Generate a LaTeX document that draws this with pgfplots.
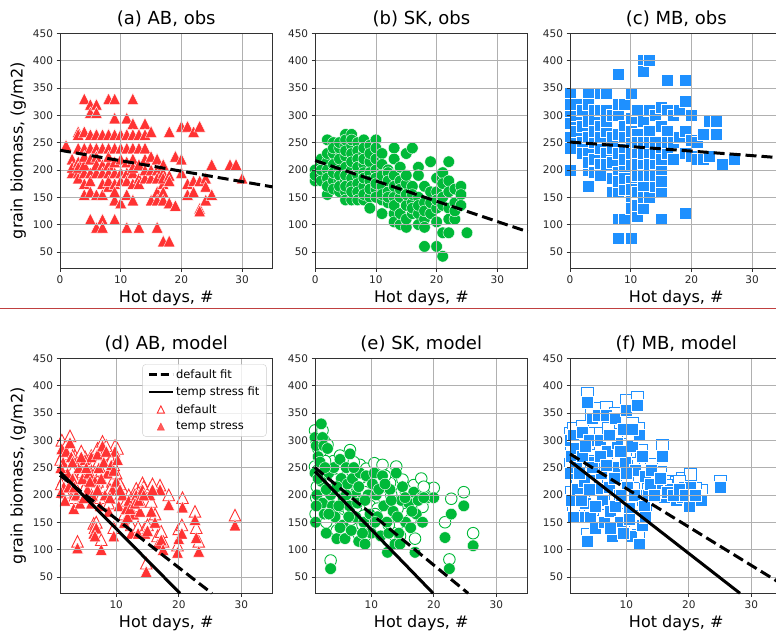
\documentclass[border=0pt]{standalone}
\usepackage{fontspec}
\setmainfont{DejaVu Sans}
\usepackage{pgfplots}
\pgfplotsset{compat=1.18}
\definecolor{myred}{RGB}{255,51,51}
\definecolor{mygreen}{RGB}{0,185,56}
\definecolor{myblue}{RGB}{30,144,255}
\definecolor{sepred}{RGB}{192,64,64}
\definecolor{gridgray}{RGB}{176,176,176}
\definecolor{axgray}{RGB}{50,50,50}
\pgfdeclareplotmark{mtri}{%
  \pgfpathmoveto{\pgfqpoint{0pt}{\pgfplotmarksize}}%
  \pgfpathlineto{\pgfqpoint{-\pgfplotmarksize}{-\pgfplotmarksize}}%
  \pgfpathlineto{\pgfqpoint{\pgfplotmarksize}{-\pgfplotmarksize}}%
  \pgfpathclose\pgfusepathqfillstroke}
\pgfplotsset{
  panel/.style={
    set layers=axis on top,
    scale only axis, width=212.5pt, height=235pt,
    xmin=0, xmax=35, ymin=20, ymax=450,
    xtick={0,10,20,30}, ytick={50,100,...,450},
    grid=major, grid style={gridgray, line width=0.8pt},
    axis line style={axgray, line width=0.9pt},
    tick style={axgray, line width=0.8pt},
    tick align=outside, tick pos=left, major tick length=3.5pt,
    ticklabel style={font=\fontsize{10.5}{12}\selectfont, text=black!85},
    /pgf/number format/assume math mode=true,
    xlabel={Hot days, \#},
    label style={font=\fontsize{16}{19}\selectfont},
    title style={font=\fontsize{18}{21}\selectfont, yshift=-3pt},
  },
  modelpanel/.style={panel, xmin=1, xtick={10,20,30}},
  fitdash/.style={black, mark=none, line width=3pt, dash pattern=on 11pt off 5pt, on layer=axis foreground},
  fitsolid/.style={black, mark=none, line width=3pt, on layer=axis foreground},
  tri/.style={only marks, mark=mtri, mark size=5.8pt, mark options={fill=myred, draw=white, line width=0.4pt}},
  otri/.style={only marks, mark=mtri, mark size=5.8pt, mark options={fill=white, draw=myred, line width=0.9pt}},
  circ/.style={only marks, mark=*, mark size=5.8pt, mark options={fill=mygreen, draw=white, line width=0.4pt}},
  ocirc/.style={only marks, mark=*, mark size=5.8pt, mark options={fill=white, draw=mygreen, line width=0.9pt}},
  sq/.style={only marks, mark=square*, mark size=6pt, mark options={fill=myblue, draw=white, line width=0.4pt}},
  osq/.style={only marks, mark=square*, mark size=6pt, mark options={fill=white, draw=myblue, line width=0.9pt}},
}
\begin{document}
\begin{tikzpicture}
% ---------------- (a)
\begin{axis}[panel, at={(60pt,363.7pt)}, anchor=south west, title={(a) AB, obs}, ylabel={grain biomass, (g/m2)}]
\addplot[tri] coordinates {
(1,245) (2,220) (2,195) (2,205)
(3,270) (3,265) (3,240) (3,215) (3,195) (3,185) (3,205)
(4,330) (4,270) (4,240) (4,195) (4,175) (4,155) (4,210) (4,225)
(5,320) (5,305) (5,265) (5,240) (5,220) (5,195) (5,160) (5,110) (5,180)
(6,320) (6,305) (6,265) (6,240) (6,195) (6,155) (6,95) (6,225) (6,210)
(7,265) (7,210) (7,195) (7,175) (7,155) (7,110) (7,95) (7,240)
(8,330) (8,265) (8,210) (8,195) (8,170) (8,240) (8,225) (8,180)
(9,330) (9,295) (9,265) (9,240) (9,195) (9,175) (9,145) (9,110) (9,215) (9,160)
(10,265) (10,240) (10,220) (10,140) (10,195) (10,180)
(11,295) (11,265) (11,240) (11,195) (11,155) (11,95) (11,215) (11,180)
(12,330) (12,285) (12,265) (12,240) (12,220) (12,195) (12,175) (12,145) (12,205)
(13,265) (13,210) (13,185) (13,175) (13,95) (13,240)
(14,285) (14,265) (14,220) (14,185) (14,240) (14,200)
(15,270) (15,225) (15,185) (15,145) (15,200)
(16,220) (16,160) (16,145) (16,95) (16,200) (16,185)
(17,210) (17,195) (17,175) (17,160) (17,145) (17,70) (17,185)
(18,270) (18,190) (18,140) (18,70) (18,180)
(19,225) (19,135)
(20,280) (20,220) (20,195)
(21,280) (21,175) (21,155)
(22,270) (22,180) (22,160)
(23,280) (23,180) (23,130) (23,125)
(24,185) (24,170) (24,145)
(25,210) (25,155)
(28,210) (29,210) (30,185)
};
\addplot[fitdash] coordinates {(0,236) (35,169)};
\end{axis}
% ---------------- (b)
\begin{axis}[panel, at={(315.2pt,363.7pt)}, anchor=south west, title={(b) SK, obs}]
\addplot[circ] coordinates {
(0,180) (0,200) (0,190) (1,210) (1,190) (1,200) (1,180) (1,220)
(2,255) (2,215) (2,200) (2,185) (2,155) (2,230) (2,170)
(3,250) (3,230) (3,210) (3,180) (3,165) (3,195) (3,240)
(4,240) (4,220) (4,200) (4,180) (4,160) (4,250) (4,190) (4,170)
(5,265) (5,245) (5,225) (5,205) (5,180) (5,160) (5,145) (5,255) (5,235) (5,190) (5,170)
(6,265) (6,245) (6,230) (6,200) (6,185) (6,170) (6,145) (6,255) (6,215) (6,160)
(7,250) (7,235) (7,220) (7,190) (7,175) (7,160) (7,205) (7,145)
(8,255) (8,230) (8,210) (8,195) (8,170) (8,145) (8,240) (8,220) (8,185) (8,155)
(9,245) (9,215) (9,195) (9,180) (9,150) (9,130) (9,230) (9,165)
(10,255) (10,220) (10,200) (10,165) (10,150) (10,240) (10,185) (10,175)
(11,230) (11,210) (11,170) (11,145) (11,120) (11,190) (11,155)
(12,200) (12,195) (12,160) (12,140) (12,180) (12,150)
(13,240) (13,220) (13,190) (13,150) (13,120) (13,105) (13,170) (13,135)
(14,205) (14,180) (14,150) (14,100) (14,165) (14,120)
(15,230) (15,175) (15,135) (15,95) (15,190) (15,155) (15,110)
(16,240) (16,170) (16,140) (16,120) (16,130) (16,155)
(17,205) (17,190) (17,150) (17,120) (17,100) (17,135)
(18,170) (18,140) (18,110) (18,95) (18,60) (18,125)
(19,215) (19,160) (19,120) (19,140)
(20,185) (20,160) (20,130) (20,105) (20,60) (20,145)
(21,195) (21,135) (21,85) (21,42) (21,175) (21,150)
(22,215) (22,180) (22,130) (22,110) (22,85) (22,160)
(23,165) (23,140) (23,110) (23,125)
(24,170) (24,155) (24,135) (25,85)
};
\addplot[fitdash] coordinates {(0,217) (35,87)};
\end{axis}
% ---------------- (c)
\begin{axis}[panel, at={(570pt,363.7pt)}, anchor=south west, title={(c) MB, obs}]
\addplot[sq] coordinates {
(0,340) (0,305) (0,285) (0,260) (0,240) (0,200) (0,320)
(1,300) (1,270) (1,320) (1,240)
(2,310) (2,280) (2,250) (2,230)
(3,340) (3,320) (3,290) (3,260) (3,230) (3,200) (3,170) (3,215)
(4,310) (4,250) (4,220) (4,195) (4,290) (4,270)
(5,340) (5,310) (5,280) (5,240) (5,210) (5,260) (5,190)
(6,340) (6,310) (6,270) (6,230) (6,290) (6,210)
(7,260) (7,215) (7,185) (7,160) (7,300) (7,240)
(8,375) (8,300) (8,265) (8,230) (8,195) (8,160) (8,110) (8,75) (8,320) (8,180)
(9,320) (9,280) (9,240) (9,200) (9,165) (9,110) (9,260) (9,220) (9,185)
(10,340) (10,295) (10,250) (10,210) (10,180) (10,150) (10,130) (10,75) (10,270) (10,230) (10,165)
(11,310) (11,265) (11,230) (11,190) (11,160) (11,115) (11,250) (11,210) (11,135)
(12,400) (12,380) (12,290) (12,250) (12,210) (12,170) (12,130) (12,230) (12,190) (12,150)
(13,400) (13,310) (13,270) (13,230) (13,190) (13,150) (13,250) (13,210)
(14,300) (14,250) (14,210) (14,170) (14,230) (14,190)
(15,315) (15,280) (15,240) (15,200) (15,160) (15,110) (15,220) (15,180)
(16,365) (16,310) (16,270) (16,230) (16,250)
(17,300) (17,250) (17,220)
(18,310) (18,260)
(19,365) (19,325) (19,270) (19,230) (19,120)
(20,300) (20,255) (20,225)
(21,250) (21,220) (22,265) (22,220)
(23,290) (23,225) (24,290) (24,265)
(25,210) (27,220)
};
\addplot[fitdash] coordinates {(0,251) (35,222)};
\end{axis}
% ---------------- (d)
\begin{axis}[modelpanel, at={(60pt,38.7pt)}, anchor=south west, title={(d) AB, model}, ylabel={grain biomass, (g/m2)},
  legend image code/.code={\draw[mark repeat=2, mark phase=2, #1] plot coordinates {(0pt,0pt) (12pt,0pt) (24pt,0pt)};},
  legend style={at={(1,1)}, anchor=north east, xshift=-6pt, yshift=-6pt, draw=gray!40, rounded corners=3pt,
    fill=white, fill opacity=0.8, text opacity=1, font=\fontsize{11.5}{13}\selectfont, cells={anchor=west},
    row sep=3.2pt, inner xsep=5pt, inner ysep=3pt}]
\addlegendimage{black, line width=2.5pt, dash pattern=on 8pt off 4pt}
\addlegendentry{default fit}
\addlegendimage{black, line width=2.5pt}
\addlegendentry{temp stress fit}
\addlegendimage{only marks, mark=mtri, mark size=3.6pt, mark options={fill=white, draw=myred, line width=0.9pt}}
\addlegendentry{default}
\addlegendimage{only marks, mark=mtri, mark size=3.6pt, mark options={fill=myred, draw=myred}}
\addlegendentry{temp stress}
\addplot[otri, forget plot] coordinates {
(1.3,300) (1.5,275) (1.6,230) (2.0,292) (2.2,255) (2.6,308) (2.8,285) (3.0,245) (3.2,195) (3.4,272)
(3.6,212) (3.8,115) (4.0,262) (4.2,200) (4.6,242) (5.0,270) (5.4,225) (5.6,248) (6.0,272) (6.2,215)
(6.4,148) (6.6,240) (6.8,150) (7.0,285) (7.2,262) (7.4,195) (7.6,118) (7.8,298) (8.0,275) (8.2,215)
(8.6,255) (8.8,185) (9.2,265) (9.4,225) (9.6,140) (9.8,290) (10.0,240) (10.4,195) (11.0,212) (11.3,165)
(11.6,190) (12.0,200) (12.4,145) (12.8,180) (13.2,212) (13.5,142) (13.8,188) (14.2,222) (14.6,140) (14.8,75)
(15.4,212) (15.6,188) (16.6,125) (17.0,218) (17.2,133) (18.4,200) (19.8,108) (20.0,138) (20.5,145) (20.6,195)
(22.6,170) (22.8,140) (23.2,115) (29.0,163)
(1.1,265) (1.2,220) (1.8,205) (2.4,228) (3.0,272) (3.3,230) (4.4,280) (4.8,210) (5.2,262) (5.8,238)
(6.0,200) (6.6,140) (7.0,225) (7.6,245) (8.4,290) (9.0,210) (9.6,255) (10.2,285) (10.6,220) (11.8,175)
(12.2,190) (13.0,200) (13.6,205) (14.4,215) (15.0,145) (15.8,220) (16.2,165) (17.5,115)
};
\addplot[tri, forget plot] coordinates {
(1.3,285) (1.5,260) (1.6,215) (2.0,280) (2.2,240) (2.6,296) (2.8,270) (3.0,230) (3.2,175) (3.4,260)
(3.6,200) (3.8,103) (4.0,250) (4.2,185) (4.6,230) (5.0,265) (5.4,210) (5.6,240) (6.0,270) (6.2,200)
(6.4,130) (6.6,225) (6.8,140) (7.0,275) (7.2,250) (7.4,180) (7.6,100) (7.8,290) (8.0,260) (8.2,200)
(8.6,240) (8.8,170) (9.2,255) (9.4,210) (9.6,125) (9.8,280) (10.0,225) (10.4,180) (11.0,200) (11.3,150)
(11.6,175) (12.0,190) (12.4,130) (12.8,165) (13.2,200) (13.5,130) (13.8,170) (14.2,210) (14.6,130) (14.8,60)
(15.4,200) (15.6,170) (16.6,110) (17.0,210) (17.2,118) (18.4,182) (19.8,95) (20.0,120) (20.5,130) (20.6,178)
(22.6,155) (22.8,122) (23.2,97) (29.0,145)
(1.1,250) (1.2,205) (1.8,190) (2.4,215) (3.0,260) (3.3,215) (4.4,270) (4.8,195) (5.2,250) (5.8,225)
(6.0,185) (6.6,125) (7.0,210) (7.6,230) (8.4,280) (9.0,195) (9.6,245) (10.2,265) (10.6,210) (11.8,160)
(12.2,175) (13.0,185) (13.6,190) (14.4,200) (15.0,135) (15.8,210) (16.2,150) (17.5,100)
};
\addplot[fitdash, forget plot] coordinates {(1,236) (25.3,20)};
\addplot[fitsolid, forget plot] coordinates {(1,242) (20.2,20)};
\end{axis}
% ---------------- (e)
\begin{axis}[modelpanel, at={(315pt,38.7pt)}, anchor=south west, title={(e) SK, model}]
\addplot[ocirc] coordinates {
(1.0,318) (1.2,300) (1.5,285) (1.0,252) (1.3,215) (1.1,165) (2.0,320) (2.2,318) (2.4,300) (1.8,272)
(2.0,240) (2.2,198) (2.5,178) (2.8,150) (3.0,292) (3.2,252) (3.5,215) (3.5,80) (3.8,195) (4.0,262)
(4.2,175) (4.5,135) (5.0,272) (5.2,245) (5.5,210) (5.5,160) (5.8,135) (6.0,262) (6.2,235) (6.5,210)
(6.6,282) (6.8,155) (7.0,242) (7.5,218) (7.5,175) (8.0,128) (8.2,255) (8.5,205) (8.8,162) (9.0,125)
(9.2,248) (9.5,215) (9.8,180) (10.0,148) (10.5,258) (10.8,215) (11.0,175) (11.5,140) (11.8,255) (12.0,195)
(12.5,165) (12.6,118) (13.0,222) (13.5,185) (13.8,125) (14.0,252) (14.4,148) (14.8,205) (15.0,228) (15.5,165)
(16.0,198) (16.3,155) (16.8,218) (17.0,120) (17.2,180) (18.0,230) (18.2,178) (19.0,212) (20.0,213) (21.8,150)
(22.5,82) (22.8,193) (24.8,205) (26.3,130)
(1.5,245) (1.2,195) (2.6,262) (2.8,225) (3.2,180) (4.5,228) (4.8,195) (5.0,155) (6.0,213) (6.4,172)
(7.2,260) (7.8,200) (8.0,228) (8.6,145) (9.0,205) (10.2,235) (10.6,165) (11.2,222) (12.2,235) (12.8,145)
(13.2,200) (14.2,175) (14.6,125) (15.4,210) (16.5,185) (17.5,200) (18.4,215)
};
\addplot[circ] coordinates {
(1.0,305) (1.2,290) (1.5,270) (1.0,240) (1.3,200) (1.1,150) (2.0,330) (2.2,305) (2.4,290) (1.8,260)
(2.0,225) (2.2,185) (2.5,165) (2.8,130) (3.0,285) (3.2,240) (3.5,200) (3.5,65) (3.8,180) (4.0,250)
(4.2,160) (4.5,120) (5.0,265) (5.2,230) (5.5,195) (5.5,145) (5.8,120) (6.0,250) (6.2,220) (6.5,180)
(6.6,275) (6.8,135) (7.0,230) (7.5,200) (7.5,160) (8.0,115) (8.2,240) (8.5,190) (8.8,150) (9.0,110)
(9.2,235) (9.5,200) (9.8,165) (10.0,130) (10.5,240) (10.8,200) (11.0,160) (11.5,125) (11.8,235) (12.0,180)
(12.5,150) (12.6,95) (13.0,210) (13.5,170) (13.8,110) (14.0,240) (14.4,130) (14.8,190) (15.0,215) (15.5,150)
(16.0,185) (16.3,140) (16.8,205) (17.0,95) (17.2,165) (18.0,195) (18.2,150) (19.0,195) (20.0,195) (21.8,122)
(22.5,65) (22.8,165) (24.8,180) (26.3,107)
(1.5,230) (1.2,180) (2.6,250) (2.8,210) (3.2,165) (4.5,215) (4.8,180) (5.0,140) (6.0,200) (6.4,160)
(7.2,250) (7.8,185) (8.0,215) (8.6,130) (9.0,190) (10.2,220) (10.6,150) (11.2,210) (12.2,220) (12.8,130)
(13.2,190) (14.2,160) (14.6,110) (15.4,195) (16.5,170) (17.5,190) (18.4,195)
};
\addplot[fitdash] coordinates {(1,250) (25.5,20)};
\addplot[fitsolid] coordinates {(1,243) (19.9,20)};
\end{axis}
% ---------------- (f)
\begin{axis}[modelpanel, at={(570pt,38.7pt)}, anchor=south west, title={(f) MB, model}]
\addplot[osq] coordinates {
(1.0,312) (1.2,285) (1.0,255) (1.2,205) (1.5,322) (2.0,300) (2.0,262) (2.2,225) (2.5,175) (3.0,325)
(3.0,282) (3.2,240) (3.5,198) (3.8,385) (3.8,128) (4.0,312) (4.2,172) (4.5,350) (4.8,272) (5.0,152)
(5.3,225) (5.5,358) (5.8,312) (6.0,255) (6.2,203) (6.5,162) (6.8,360) (7.0,292) (7.2,228) (7.5,182)
(7.8,140) (8.2,350) (8.5,310) (8.5,262) (8.8,215) (9.0,165) (9.5,335) (9.8,272) (10.0,372) (10.2,228)
(10.5,188) (10.8,138) (11.0,300) (11.5,258) (11.8,378) (12.0,322) (12.2,212) (12.5,160) (12.0,125) (13.0,250)
(13.5,210) (14.0,255) (15.0,228) (15.8,290) (16.0,215) (17.0,225) (18.0,222) (19.0,230) (20.0,205) (20.2,238)
(22.0,208) (25.0,225)
(1.5,172) (2.8,202) (2.5,250) (3.5,300) (4.0,222) (4.5,262) (5.0,192) (5.8,282) (6.8,268) (7.2,322)
(7.5,152) (8.0,242) (8.2,192) (9.0,292) (9.2,212) (9.5,142) (10.0,252) (10.5,168) (11.0,330) (11.2,212)
(12.5,282) (12.8,192) (13.0,172) (13.8,232) (14.5,212) (15.5,242) (16.5,218) (17.5,210) (18.5,225) (19.5,212)
(21.0,212)
};
\addplot[sq] coordinates {
(1.0,300) (1.2,270) (1.0,240) (1.2,190) (1.5,310) (2.0,285) (2.0,250) (2.2,210) (2.5,160) (3.0,315)
(3.0,270) (3.2,225) (3.5,185) (3.8,370) (3.8,115) (4.0,300) (4.2,160) (4.5,340) (4.8,260) (5.0,140)
(5.3,210) (5.5,345) (5.8,300) (6.0,240) (6.2,190) (6.5,150) (6.8,345) (7.0,280) (7.2,215) (7.5,170)
(7.8,125) (8.2,340) (8.5,295) (8.5,250) (8.8,200) (9.0,150) (9.5,320) (9.8,260) (10.0,355) (10.2,215)
(10.5,175) (10.8,125) (11.0,290) (11.5,245) (11.8,365) (12.0,310) (12.2,200) (12.5,145) (12.0,110) (13.0,235)
(13.5,200) (14.0,245) (15.0,215) (15.8,270) (16.0,195) (17.0,210) (18.0,190) (19.0,195) (20.0,180) (20.2,215)
(22.0,190) (25.0,215)
(1.5,160) (2.8,190) (2.5,240) (3.5,290) (4.0,210) (4.5,250) (5.0,180) (5.8,270) (6.8,255) (7.2,310)
(7.5,140) (8.0,230) (8.2,180) (9.0,280) (9.2,200) (9.5,130) (10.0,240) (10.5,155) (11.0,320) (11.2,200)
(12.5,270) (12.8,180) (13.0,160) (13.8,220) (14.5,200) (15.5,230) (16.5,205) (17.5,200) (18.5,210) (19.5,200)
(21.0,200)
};
\addplot[fitdash] coordinates {(1,275) (35,36)};
\addplot[fitsolid] coordinates {(1,262) (28.2,20)};
\end{axis}
\draw[sepred, line width=1pt] (0pt,323pt) -- (776pt,323pt);
\pgfresetboundingbox
\useasboundingbox (0pt,0pt) rectangle (776pt,632pt);
\end{tikzpicture}
\end{document}
